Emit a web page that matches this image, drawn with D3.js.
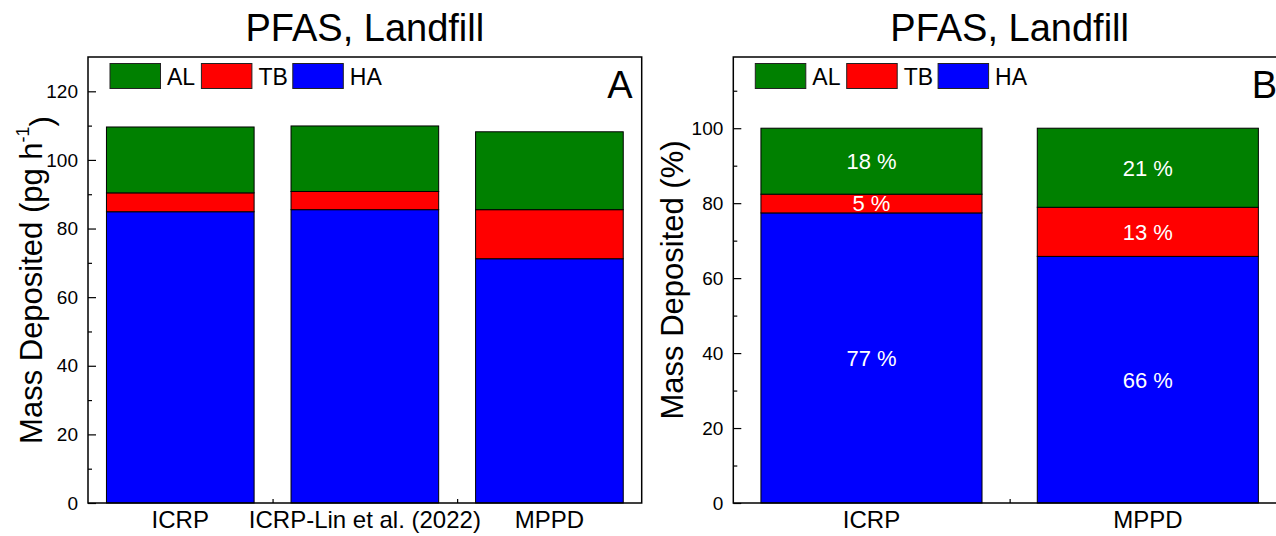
<!DOCTYPE html>
<html>
<head>
<meta charset="utf-8">
<script src="https://cdn.jsdelivr.net/npm/d3@7"></script>
<style>
  body { margin: 0; background: #fff; }
  svg { display: block; font-family: "Liberation Sans", Arial, sans-serif; }
</style>
</head>
<body>
<div class="chart"></div>
<script>
// data
let seriesKeys = ["HA", "TB", "AL"];
let legendNames = ["AL", "TB", "HA"];

let categoriesA = ["ICRP", "ICRP-Lin et al. (2022)", "MPPD"];
let haA = [84.9, 85.5, 71.2];
let tbA = [5.5, 5.3, 14.3];
let alA = [19.2, 19.1, 22.7];
let yTicksA = [0, 20, 40, 60, 80, 100, 120];
let yMinorA = [10, 30, 50, 70, 90, 110, 130];

let categoriesB = ["ICRP", "MPPD"];
let haB = [77.4, 65.8];
let tbB = [5.0, 13.1];
let alB = [17.6, 21.1];
let yTicksB = [0, 20, 40, 60, 80, 100];
let yMinorB = [10, 30, 50, 70, 90, 110];

let colors = { AL: "#008000", TB: "#ff0000", HA: "#0000ff" };

let svgWidth = 1276;
let svgHeight = 536;

let svg = d3.select(".chart")
    .append("svg")
    .attr("width", svgWidth)
    .attr("height", svgHeight);

function drawPanel(p) {
    let rows = p.categories.map((c, i) => ({ cat: c, HA: p.ha[i], TB: p.tb[i], AL: p.al[i] }));
    let stacked = d3.stack().keys(seriesKeys)(rows);

    let x = d3.scaleBand()
        .domain(p.categories)
        .range([p.left, p.right])
        .paddingInner(0.2)
        .paddingOuter(0.1);

    let xEdges = d3.scaleLinear()
        .domain([0, p.categories.length])
        .range([p.left, p.right]);

    let y = d3.scaleLinear()
        .domain([0, p.yMax])
        .range([p.bottom, p.top]);

    let g = svg.append("g");

    // minor ticks on x between categories
    g.append("g")
        .attr("transform", `translate(0, ${p.bottom})`)
        .call(d3.axisBottom(xEdges)
            .tickValues(d3.range(1, p.categories.length))
            .tickSizeInner(-4).tickSizeOuter(0).tickFormat(""))
        .call(a => a.select(".domain").remove())
        .selectAll("line").attr("stroke", "#000").attr("stroke-width", 1.2);

    // bars
    g.selectAll(".layer")
        .data(stacked)
        .enter()
        .append("g")
        .attr("fill", d => colors[d.key])
        .selectAll("rect")
        .data(d => d)
        .enter()
        .append("rect")
        .attr("x", d => x(d.data.cat))
        .attr("width", x.bandwidth())
        .attr("y", d => y(d[1]))
        .attr("height", d => y(d[0]) - y(d[1]))
        .attr("stroke", "#000")
        .attr("stroke-width", 1);

    // percentage labels
    if (p.showPct) {
        stacked.forEach(layer => {
            g.selectAll(null)
                .data(layer)
                .enter()
                .append("text")
                .attr("x", d => x(d.data.cat) + x.bandwidth() / 2)
                .attr("y", d => (y(d[0]) + y(d[1])) / 2)
                .attr("dy", "0.36em")
                .attr("text-anchor", "middle")
                .attr("fill", "#fff")
                .style("font-size", "22px")
                .text(d => `${d3.format(".0f")(d[1] - d[0])} %`);
        });
    }

    // y axis, major + minor, ticks inward
    let yAxis = g.append("g")
        .attr("transform", `translate(${p.left}, 0)`)
        .call(d3.axisLeft(y).tickValues(p.yTicks)
            .tickSizeInner(-8).tickSizeOuter(0).tickPadding(10));
    yAxis.select(".domain").remove();
    yAxis.selectAll("line").attr("stroke", "#000").attr("stroke-width", 1.2);
    yAxis.selectAll("text").style("font-size", "19px").attr("fill", "#000");

    g.append("g")
        .attr("transform", `translate(${p.left}, 0)`)
        .call(d3.axisLeft(y).tickValues(p.yMinor.filter(v => v < p.yMax))
            .tickSizeInner(-4).tickSizeOuter(0).tickFormat(""))
        .call(a => a.select(".domain").remove())
        .selectAll("line").attr("stroke", "#000").attr("stroke-width", 1.2);

    // x labels
    let xAxis = g.append("g")
        .attr("transform", `translate(0, ${p.bottom})`)
        .call(d3.axisBottom(x).tickSize(0).tickPadding(8));
    xAxis.select(".domain").remove();
    xAxis.selectAll("text").style("font-size", "24px").attr("fill", "#000");

    // frame
    g.append("rect")
        .attr("x", p.left)
        .attr("y", p.top)
        .attr("width", p.right - p.left)
        .attr("height", p.bottom - p.top)
        .attr("fill", "none")
        .attr("stroke", "#000")
        .attr("stroke-width", 1.5);

    // legend
    let legend = g.selectAll(".legend")
        .data(legendNames)
        .enter()
        .append("g")
        .attr("transform", (d, i) => `translate(${p.left + 22 + i * 91.4}, 63.5)`);
    legend.append("rect")
        .attr("width", 50.5)
        .attr("height", 25)
        .attr("fill", d => colors[d])
        .attr("stroke", "#222")
        .attr("stroke-width", 1);
    legend.append("text")
        .attr("x", 57)
        .attr("y", 21)
        .style("font-size", "23px")
        .text(d => d);

    // panel letter
    g.append("text")
        .attr("x", p.right - 9)
        .attr("y", 97.5)
        .attr("text-anchor", "end")
        .style("font-size", "38px")
        .text(p.letter);

    // title
    g.append("text")
        .attr("x", (p.left + p.right) / 2)
        .attr("y", 41)
        .attr("text-anchor", "middle")
        .style("font-size", "38px")
        .text("PFAS, Landfill");

    // y label
    let yl = g.append("text")
        .attr("transform", "rotate(-90)")
        .attr("x", -(p.top + p.bottom) / 2)
        .attr("y", p.labelX)
        .attr("text-anchor", "middle")
        .style("font-size", "31px");
    yl.append("tspan").text(p.yLabel);
    if (p.sup) {
        yl.append("tspan").attr("dy", "-0.75em").style("font-size", "18px").text(p.sup);
        yl.append("tspan").attr("dy", "0.75em").text(")");
    }
}

drawPanel({
    categories: categoriesA, ha: haA, tb: tbA, al: alA,
    yTicks: yTicksA, yMinor: yMinorA, yMax: 130,
    left: 88, right: 641.7, top: 57, bottom: 503,
    letter: "A", labelX: 42,
    yLabel: "Mass Deposited (pg h", sup: "-1",
    showPct: false
});

drawPanel({
    categories: categoriesB, ha: haB, tb: tbB, al: alB,
    yTicks: yTicksB, yMinor: yMinorB, yMax: 119,
    left: 733.3, right: 1286, top: 57, bottom: 503,
    letter: "B", labelX: 683,
    yLabel: "Mass Deposited (%)", sup: null,
    showPct: true
});
</script>
</body>
</html>
